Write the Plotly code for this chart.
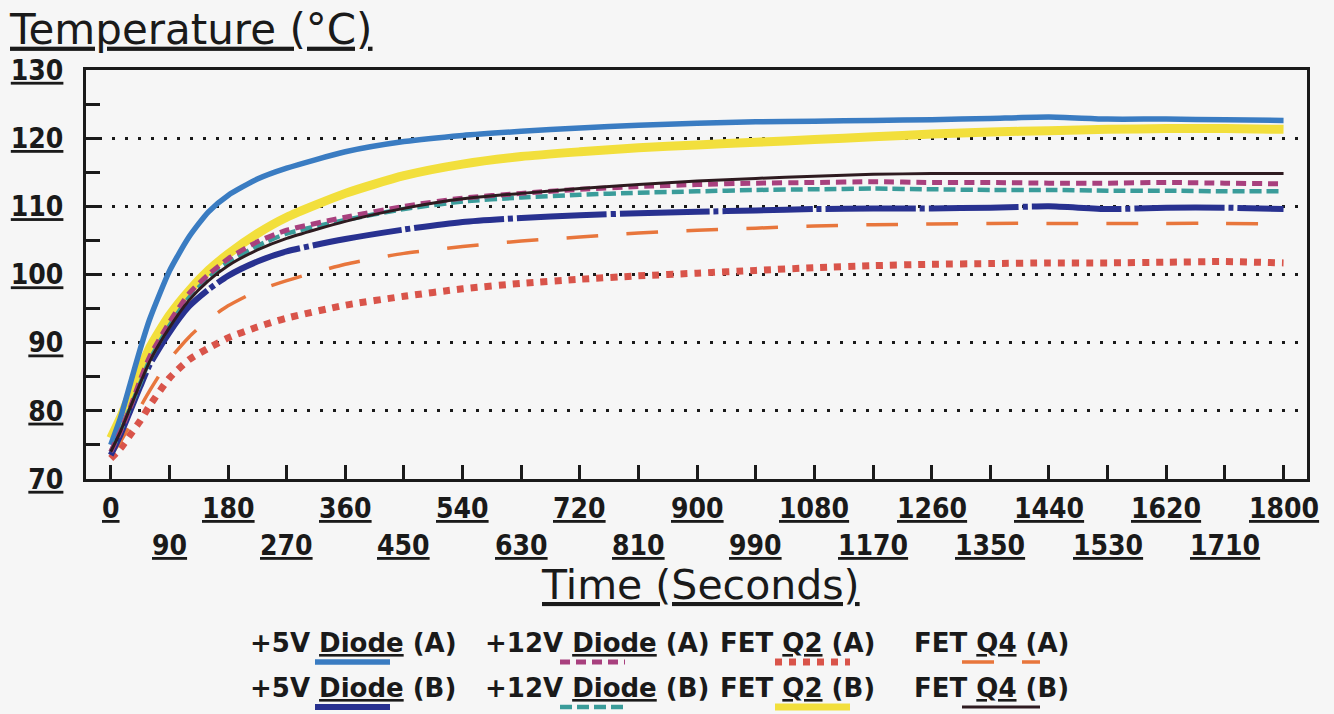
import plotly.graph_objects as go

# ---------------- data ----------------
time_s = [0, 15, 30, 45, 60, 90, 120, 150, 180, 225, 270, 360, 450, 540, 630,
          720, 810, 900, 990, 1080, 1170, 1260, 1350, 1440, 1530, 1620, 1710, 1800]

diode5_a = [75, 79, 84, 89, 93.5, 100.5, 105.5, 109.2, 111.6, 114.0, 115.6, 118.0, 119.5, 120.4, 121.0,
            121.5, 121.9, 122.2, 122.4, 122.5, 122.6, 122.7, 122.9, 123.1, 122.8, 122.8, 122.7, 122.6]
fetq2_b = [76, 79, 82.5, 86, 89.3, 94, 97.6, 100.6, 103, 106, 108.4, 111.9, 114.5, 116.2, 117.3,
           118.0, 118.6, 119.0, 119.4, 119.8, 120.2, 120.6, 120.9, 121.1, 121.3, 121.4, 121.4, 121.3]
diode12_a = [74, 77, 80.5, 84.5, 88, 93, 97.2, 100, 102.3, 104.8, 106.5, 108.4, 110.0, 111.2, 111.9,
             112.5, 112.9, 113.2, 113.4, 113.5, 113.6, 113.5, 113.5, 113.4, 113.4, 113.5, 113.4, 113.3]
diode12_b = [74, 77, 80.5, 84, 87.5, 92.5, 96.6, 99.5, 101.8, 104.2, 106, 108.0, 109.6, 110.7, 111.3,
             111.7, 112.0, 112.2, 112.4, 112.5, 112.6, 112.5, 112.4, 112.4, 112.3, 112.3, 112.2, 112.2]
fetq4_b = [74, 77, 80.5, 84, 87.3, 92.2, 96.2, 99.1, 101.3, 103.6, 105.3, 107.8, 109.7, 111.1, 111.9,
           112.6, 113.2, 113.7, 114.1, 114.4, 114.7, 114.8, 114.8, 114.8, 114.8, 114.8, 114.8, 114.8]
diode5_b = [73.5, 76.5, 80, 83.5, 86.8, 91.5, 95.3, 97.8, 99.8, 101.9, 103.4, 105.2, 106.6, 107.7, 108.3,
            108.7, 109.0, 109.2, 109.4, 109.6, 109.7, 109.7, 109.8, 110.0, 109.6, 109.8, 109.8, 109.6]
fetq4_a = [73.5, 75.5, 78, 80.5, 83, 87.5, 90.8, 93.4, 95.4, 97.6, 99.1, 101.5, 103.1, 104.1, 104.9,
           105.5, 106.1, 106.5, 106.8, 107.1, 107.3, 107.4, 107.5, 107.5, 107.5, 107.5, 107.5, 107.4]
fetq2_a = [73, 74.5, 76.5, 78.5, 80.8, 84.8, 87.5, 89.2, 90.7, 92.3, 93.6, 95.5, 96.8, 97.9, 98.7,
           99.3, 99.8, 100.2, 100.6, 101.0, 101.3, 101.5, 101.6, 101.7, 101.7, 101.8, 101.9, 101.7]

x_ticks = list(range(0, 1801, 90))
y_ticks = [70, 80, 90, 100, 110, 120, 130]

legend_labels = ["+5V <u>Diode</u> (A)", "+12V <u>Diode</u> (A)", "FET <u>Q2</u> (A)", "FET <u>Q4</u> (A)",
                 "+5V <u>Diode</u> (B)", "+12V <u>Diode</u> (B)", "FET <u>Q2</u> (B)", "FET <u>Q4</u> (B)"]

# ---------------- styles ----------------
series = [
    # (values, legend index, color, width, dash)
    (fetq2_b, 6, "#f2df3c", 9, "solid"),
    (diode5_a, 0, "#3a7cc2", 5.5, "solid"),
    (fetq2_a, 2, "#d9544a", 7, "7px,7px"),
    (fetq4_a, 3, "#e8763c", 3.5, "32px,28px"),
    (diode5_b, 4, "#283190", 6, "90px,4px,5px,4px"),
    (diode12_b, 5, "#3a9c9a", 4.5, "12px,5px"),
    (diode12_a, 1, "#a8407e", 5, "10px,6px"),
    (fetq4_b, 7, "#2e1b20", 3, "solid"),
]

fig = go.Figure()
for vals, li, col, w, dash in series:
    fig.add_trace(go.Scatter(
        x=time_s, y=vals, mode="lines", name=legend_labels[li].replace("<u>", "").replace("</u>", ""),
        line=dict(color=col, width=w, dash=dash, shape="spline", smoothing=0.6),
        showlegend=False, hoverinfo="skip"))

# ---------------- layout geometry ----------------
W, H = 1334, 714
L, R, T, B = 86, 1307, 70, 479


def px(xp):
    return (xp - L) / (R - L)


def py(yp):
    return (B - yp) / (B - T)


num_font = dict(family="Liberation Sans Narrow, DejaVu Sans Condensed, Liberation Sans", size=28,
                color="#1a1a1a", weight="bold")
bg = "#f6f6f6"

fig.update_layout(
    width=W, height=H, paper_bgcolor=bg, plot_bgcolor=bg,
    margin=dict(l=L, r=W - R, t=T, b=H - B),
    title=dict(text="<u>Temperature (°C)</u>", x=10 / W, xanchor="left", xref="container",
               y=1 - 29 / H, yanchor="middle", yref="container",
               font=dict(family="DejaVu Sans", size=42, color="#1a1a1a")),
    xaxis=dict(range=[-38, 1836], showline=True, mirror=True, linecolor="#1a1a1a", linewidth=3,
               tickvals=x_ticks, ticks="inside", ticklen=14, tickwidth=2.5, tickcolor="#1a1a1a",
               showticklabels=False, showgrid=False, zeroline=False),
    yaxis=dict(range=[70, 130], showline=True, mirror=True, linecolor="#1a1a1a", linewidth=3,
               tickvals=y_ticks, ticktext=[f"<u>{v}</u>" for v in y_ticks],
               ticks="inside", ticklen=14, tickwidth=3, tickcolor="#1a1a1a",
               tickfont=num_font, ticklabelstandoff=14,
               showgrid=True, gridcolor="#1a1a1a", gridwidth=2.5, griddash="2.5px,10.5px",
               minor=dict(tickvals=[75, 85, 95, 105, 115, 125], ticks="inside", ticklen=14,
                          tickwidth=3, tickcolor="#1a1a1a", showgrid=False),
               zeroline=False),
    showlegend=False,
)

annotations = []
# two-row x tick labels
for i, t in enumerate(x_ticks):
    row_y = 508 if i % 2 == 0 else 545
    annotations.append(dict(x=t, xref="x", y=py(row_y), yref="paper", text=f"<u>{t}</u>",
                            showarrow=False, xanchor="center", yanchor="middle", font=num_font))
# x axis title
annotations.append(dict(x=px(700), xref="paper", y=py(585), yref="paper",
                        text="<u>Time (Seconds)</u>", showarrow=False, xanchor="center",
                        yanchor="middle", font=dict(family="DejaVu Sans", size=41, color="#1a1a1a")))

# custom legend: text with a line sample beneath
leg_cols = [248, 483, 718, 912]
leg_rows = [643, 688]
sample_x = [(315, 390), (560, 625), (775, 850), (962, 1040)]
leg_font = dict(family="DejaVu Sans", size=26, color="#1a1a1a", weight="bold")
shapes = []
for vals, li, col, w, dash in series:
    r, c = divmod(li, 4)
    annotations.append(dict(x=px(leg_cols[c]), xref="paper", y=py(leg_rows[r]), yref="paper",
                            text=legend_labels[li], showarrow=False, xanchor="left",
                            yanchor="middle", font=leg_font))
    sy = leg_rows[r] + 19
    x0, x1 = sample_x[c]
    shapes.append(dict(type="line", xref="paper", yref="paper", x0=px(x0), x1=px(x1),
                       y0=py(sy), y1=py(sy), line=dict(color=col, width=min(w, 7), dash=dash)))

fig.update_layout(annotations=annotations, shapes=shapes)

fig.write_html("out.html")
